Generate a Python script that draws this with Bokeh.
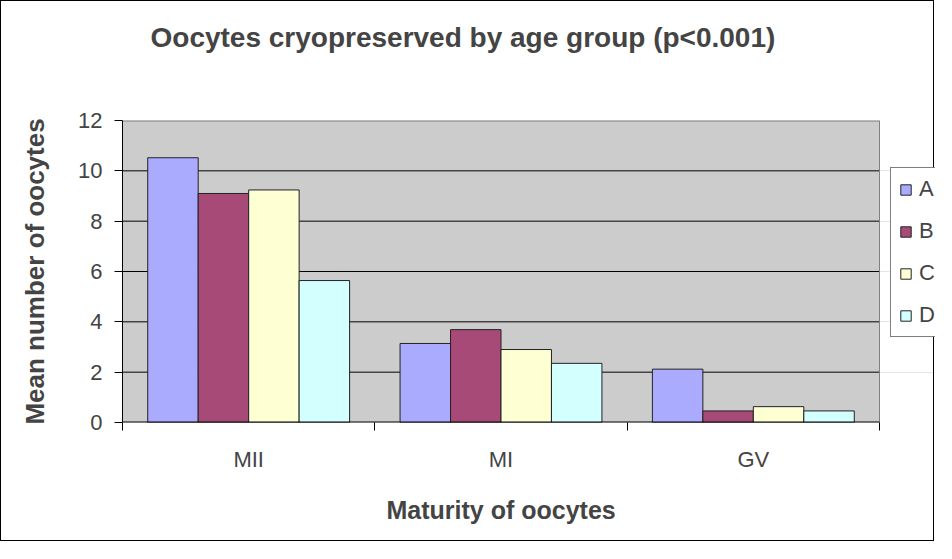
from bokeh.plotting import figure
from bokeh.models import (Range1d, LinearAxis, FixedTicker, ColumnDataSource, Legend, LegendItem, Title)
from bokeh.transform import dodge
from bokeh.embed import file_html
from bokeh.resources import INLINE

categories = ["MII", "MI", "GV"]
groups = ["A", "B", "C", "D"]
A = [10.52, 3.14, 2.12]
B = [9.10, 3.69, 0.46]
C = [9.24, 2.90, 0.63]
D = [5.64, 2.35, 0.46]
colors = ["#AAAAFF", "#A84A77", "#FFFFD4", "#D4FFFF"]
yticks = [0, 2, 4, 6, 8, 10, 12]
title_text = "Oocytes cryopreserved by age group (p<0.001)"
xlabel_text = "Maturity of oocytes"
ylabel_text = "Mean number of oocytes"

FONT = "Liberation Sans"

n = len(categories)
centers = [i + 0.5 for i in range(n)]
src = ColumnDataSource(dict(x=centers, A=A, B=B, C=C, D=D))

# the drawing frame runs to the right edge so the legend (outside the grey area) is visible
FRAME_PX = 813
PLOT_PX = 757
p = figure(x_range=Range1d(0, n * FRAME_PX / PLOT_PX), y_range=Range1d(yticks[0], yticks[-1]),
           title=None, width=934, height=541, output_backend="svg", toolbar_location=None,
           x_axis_location=None, y_axis_location=None,
           min_border_left=121, min_border_right=0, min_border_top=119, min_border_bottom=117,
           background_fill_color="white", border_fill_color="white",
           styles={"border": "1px solid black"})
p.outline_line_color = None

# title with a spacer between it and the plot area
spacer = Title(text=" ", text_font_size="10px", standoff=50)
p.add_layout(spacer, "above")
title = Title(text=title_text, text_font=FONT, text_font_size="28px", text_font_style="bold",
              align="left", offset=28, standoff=10)
p.add_layout(title, "above")

# grey plot area and gridlines
p.quad(left=[0], right=[n], bottom=[yticks[0]], top=[yticks[-1]],
       fill_color="#CCCCCC", line_color=None)
inner = yticks[1:-1]
p.segment(x0=[0] * len(inner), x1=[n] * len(inner), y0=inner, y1=inner,
          line_color="black", line_width=1)
p.segment(x0=[0], x1=[n], y0=[yticks[-1]], y1=[yticks[-1]], line_color="#808080", line_width=2)
p.segment(x0=[n], x1=[n], y0=[yticks[0]], y1=[yticks[-1]], line_color="#808080", line_width=1)

offsets = [-0.3, -0.1, 0.1, 0.3]
renderers = []
for g, off, col in zip(groups, offsets, colors):
    r = p.vbar(x=dodge("x", off), top=g, width=0.2, source=src,
               fill_color=col, line_color="#222222", line_width=1)
    renderers.append(r)

p.segment(x0=[0], x1=[n], y0=[yticks[0]], y1=[yticks[0]], line_color="black", line_width=2)

# y axis
yax = LinearAxis(ticker=FixedTicker(ticks=yticks))
yax.axis_label = ylabel_text
yax.axis_label_text_font = FONT
yax.axis_label_text_font_size = "26px"
yax.axis_label_text_font_style = "bold"
yax.axis_label_standoff = 25
yax.major_label_text_font = FONT
yax.major_label_text_font_size = "22px"
yax.major_label_standoff = 12
yax.major_tick_out = 8
yax.major_tick_in = 0
yax.minor_tick_line_color = None
yax.axis_line_color = "black"
yax.major_tick_line_color = "black"
p.add_layout(yax, "left")

# boundary ticks between categories
tax = LinearAxis(ticker=FixedTicker(ticks=list(range(n + 1))))
tax.major_label_text_font_size = "0px"
tax.major_label_standoff = 0
tax.major_tick_out = 8
tax.major_tick_in = 0
tax.minor_tick_line_color = None
tax.major_tick_line_color = "black"
tax.axis_line_color = None
p.add_layout(tax, "below")

# category labels
xax = LinearAxis(ticker=FixedTicker(ticks=centers))
xax.major_label_overrides = {c: lab for c, lab in zip(centers, categories)}
xax.axis_line_color = None
xax.major_tick_line_color = None
xax.minor_tick_line_color = None
xax.major_label_text_font = FONT
xax.major_label_text_font_size = "22px"
xax.major_label_standoff = 10
p.add_layout(xax, "below")

# x axis title, centred under the grey plot area
xlabel = Title(text=xlabel_text, text_font=FONT, text_font_size="25px", text_font_style="bold",
               align="left", offset=264, standoff=38)
p.add_layout(xlabel, "below")

legend = Legend(items=[LegendItem(label=g, renderers=[r]) for g, r in zip(groups, renderers)],
                location=(768, 85), orientation="vertical")
legend.label_text_font = FONT
legend.label_text_font_size = "22px"
legend.glyph_width = 13
legend.glyph_height = 13
legend.label_height = 25
legend.label_width = 15
legend.label_standoff = 7
legend.spacing = 16
legend.padding = 8
legend.margin = 0
legend.border_line_color = "black"
legend.background_fill_color = "white"
legend.background_fill_alpha = 1
p.add_layout(legend, "center")

open("out.html", "w").write(file_html(p, INLINE))
